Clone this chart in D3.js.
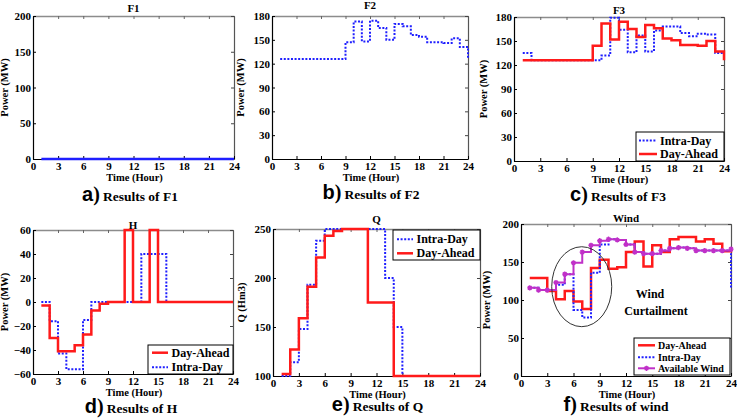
<!DOCTYPE html>
<html><head><meta charset="utf-8">
<script src="https://cdn.jsdelivr.net/npm/d3@7"></script>
<style>
html,body{margin:0;padding:0;background:#fff;}
svg{display:block;font-family:"Liberation Serif","Times New Roman",serif;font-weight:bold;}
</style></head><body>
<svg id="chart" width="737" height="418"></svg>
<script>
// ---------- data ----------
const hours = [1,2,3,4,5,6,7,8,9,10,11,12,13,14,15,16,17,18,19,20,21,22,23,24];
const xTicks = [0,3,6,9,12,15,18,21,24];

const f1Intra = [0,0,0,0,0,0,0,0,0,0,0,0,0,0,0,0,0,0,0,0,0,0,0,0];
const f1Ticks = [0,50,100,150,200];

const f2Intra = [126,126,126,126,126,126,126,126,147,173,148,174,165,150,170,167,156,154,147,147,146,152,141,126];
const f2Ticks = [0,30,60,90,120,150,180];

const f3Intra = [135,126,126,126,126,126,126,126,126,132,179,164,136,157,137,163,168,168,160,156,159,158,135,126];
const f3DayAhead = [126,126,126,126,126,126,126,126,144,172,152,174,165,155,170,166,153,151,145,145,144,150,137,126];
const f3Ticks = [0,30,60,90,120,150,180];

const hDayAhead = [-3,-30,-41,-41,-36,-27,-7,-1.5,0,0,60,0,0,60,0,0,0,0,0,0,0,0,0,0];
const hIntra = [0,-16,-43,-56,-56,-15,0,0,0,0,0,0,40,40,40,0,0,0,0,0,0,0,0,0];
const hTicks = [-60,-40,-20,0,20,40,60];

const qDayAhead = [102,127,159,191,221,243,248,250,250,250,175,175,175,100,100,100,100,100,100,100,100,100,100,100];
const qIntra = [100,114,148,193,238,250,250,250,250,250,250,250,200,150,100,100,100,100,100,100,100,100,100,100];
const qTicks = [100,150,200,250];

const wDayAhead = [129,129,112,101,112,98,88,142,153,141,143,163,177,144,172,163,180,183,183,177,180,174,164,166];
const wIntra = [116,113,113,120,134,87,77,136,173,180,179,173,163,161,161,165,168,169,168,165,165,165,165,116];
const wAvailable = [116,113,113,123,134,149,163,172,178,180,179,173,163,161,161,165,168,169,168,165,165,165,165,167];
const wTicks = [0,50,100,150,200];

// ---------- styles ----------
const RED = '#ff1a1a', BLUE = '#1f1fff', MAG = '#c030c8';
const stRed = {color: RED, width: 2.5, dash: null};
const stBlue = {color: BLUE, width: 2, dash: '2,1.6'};
const stMag = {color: MAG, width: 2, dash: null, marker: true};

const svg = d3.select('#chart');

function markerPath(cx, cy, s) {
  return `M${cx-s},${cy}L${cx+s},${cy}M${cx},${cy-s}L${cx},${cy+s}M${cx-s*0.7},${cy-s*0.7}L${cx+s*0.7},${cy+s*0.7}M${cx-s*0.7},${cy+s*0.7}L${cx+s*0.7},${cy-s*0.7}`;
}

function drawPanel(p) {
  const g = svg.append('g');
  const x = d3.scaleLinear().domain([0,24]).range([p.x0,p.x1]);
  const y = d3.scaleLinear().domain([p.yTicks[0], p.yTicks[p.yTicks.length-1]]).range([p.y1,p.y0]);

  // top & right (grey box sides, inward ticks)
  const top = g.append('g').attr('transform',`translate(0,${p.y0})`)
    .call(d3.axisTop(x).tickValues(xTicks).tickSizeInner(-3).tickSizeOuter(0).tickFormat(''));
  top.select('.domain').attr('stroke','#8c8c8c').attr('stroke-width',1.5);
  top.selectAll('.tick line').attr('stroke','#666');
  const right = g.append('g').attr('transform',`translate(${p.x1},0)`)
    .call(d3.axisRight(y).tickValues(p.yTicks).tickSizeInner(-3).tickSizeOuter(0).tickFormat(''));
  right.select('.domain').attr('stroke','#555').attr('stroke-width',1.2);
  right.selectAll('.tick line').attr('stroke','#444');

  // bottom & left axes
  const bottom = g.append('g').attr('transform',`translate(0,${p.y1})`)
    .call(d3.axisBottom(x).tickValues(xTicks).tickSizeInner(-3).tickSizeOuter(0).tickPadding(3));
  const left = g.append('g').attr('transform',`translate(${p.x0},0)`)
    .call(d3.axisLeft(y).tickValues(p.yTicks).tickSizeInner(-3).tickSizeOuter(0).tickPadding(2));
  [bottom,left].forEach(a => {
    a.select('.domain').attr('stroke','#000').attr('stroke-width',1.2);
    a.selectAll('.tick line').attr('stroke','#000');
    a.selectAll('.tick text').attr('fill','#000')
      .style('font-family','"Liberation Serif",serif').style('font-weight','bold').style('font-size','11px');
  });

  // series
  const line = d3.line().x((d,i)=>x(hours[i])).y(d=>y(d)).curve(d3.curveStepAfter);
  p.series.forEach(s => {
    g.append('path').datum(s.values).attr('d', line)
      .attr('fill','none').attr('stroke', s.st.color).attr('stroke-width', s.st.width)
      .attr('stroke-dasharray', s.st.dash).attr('stroke-linejoin','miter');
    if (s.st.marker) {
      g.append('g').selectAll('path').data(s.values).join('path')
        .attr('d',(d,i)=>markerPath(x(hours[i]), y(d), 2.6))
        .attr('stroke', s.st.color).attr('stroke-width',1.4).attr('fill','none');
    }
  });

  // title
  g.append('text').attr('x', (p.x0+p.x1)/2).attr('y', p.titleY).attr('text-anchor','middle')
    .attr('font-size', 11).text(p.title);
  // x label
  g.append('text').attr('x', (p.x0+p.x1)/2 + 1).attr('y', p.y1 + 22).attr('text-anchor','middle')
    .attr('font-size', 10.5).text('Time (Hour)');
  // y label
  const ly = (p.y0+p.y1)/2;
  g.append('text').attr('transform',`translate(${p.x0 - p.ylabOff},${ly}) rotate(-90)`)
    .attr('text-anchor','middle').attr('font-size', 10.5).text(p.ylabel);

  // legend
  if (p.legend) {
    const L = p.legend;
    g.append('rect').attr('x',L.x).attr('y',L.y).attr('width',L.w).attr('height',L.h)
      .attr('fill','#fff').attr('stroke','#000').attr('stroke-width',1);
    L.items.forEach((it,i) => {
      const cy = L.rows[i];
      g.append('line').attr('x1',L.sx0).attr('x2',L.sx1).attr('y1',cy).attr('y2',cy)
        .attr('stroke',it.st.color).attr('stroke-width',it.st.width).attr('stroke-dasharray',it.st.dash);
      if (it.st.marker) {
        g.append('path').attr('d', markerPath((L.sx0+L.sx1)/2, cy, 2.6))
          .attr('stroke',it.st.color).attr('stroke-width',1.4).attr('fill','none');
      }
      g.append('text').attr('x',L.tx).attr('y',cy).attr('dy','0.34em')
        .attr('font-size',L.fs).text(it.label);
    });
  }

  // caption
  const cap = g.append('text').attr('x',p.cap.x).attr('y',p.cap.y).attr('text-anchor','middle');
  cap.append('tspan').attr('font-size',20).attr('font-family','"Liberation Sans",Arial,sans-serif').text(p.cap.letter);
  cap.append('tspan').attr('font-size',20).text(')');
  cap.append('tspan').attr('font-size',13.5).attr('dx',3).text(p.cap.text);
  return {g, x, y};
}

drawPanel({x0:33, x1:234, y0:16, y1:159, yTicks:f1Ticks, title:'F1', titleY:12,
  ylabel:'Power (MW)', ylabOff:25,
  series:[{values:f1Intra, st:{color:BLUE, width:2.5, dash:null}}],
  cap:{letter:'a', text:'Results of F1', x:130, y:201}});

drawPanel({x0:272, x1:468, y0:16, y1:159, yTicks:f2Ticks, title:'F2', titleY:9,
  ylabel:'Power (MW)', ylabOff:28,
  series:[{values:f2Intra, st:stBlue}],
  cap:{letter:'b', text:'Results of F2', x:371, y:199}});

drawPanel({x0:514, x1:724, y0:17, y1:161, yTicks:f3Ticks, title:'F3', titleY:14,
  ylabel:'Power (MW)', ylabOff:27,
  series:[{values:f3Intra, st:stBlue},{values:f3DayAhead, st:stRed}],
  legend:{x:636, y:132, w:88, h:29, sx0:639, sx1:657, tx:660, rows:[140.5,154], fs:12,
    items:[{label:'Intra-Day', st:stBlue},{label:'Day-Ahead', st:stRed}]},
  cap:{letter:'c', text:'Results of F3', x:618, y:201}});

drawPanel({x0:33, x1:233, y0:230, y1:374, yTicks:hTicks, title:'H', titleY:229,
  ylabel:'Power (MW)', ylabOff:25,
  series:[{values:hIntra, st:stBlue},{values:hDayAhead, st:stRed}],
  legend:{x:148, y:345, w:85, h:29, sx0:152, sx1:168, tx:171.5, rows:[352.7,367.3], fs:12,
    items:[{label:'Day-Ahead', st:stRed},{label:'Intra-Day', st:stBlue}]},
  cap:{letter:'d', text:'Results of H', x:131, y:413}});

drawPanel({x0:273, x1:480, y0:229, y1:376, yTicks:qTicks, title:'Q', titleY:223,
  ylabel:'Q (Hm3)', ylabOff:28,
  series:[{values:qIntra, st:stBlue},{values:qDayAhead, st:stRed}],
  legend:{x:393, y:230, w:87, h:30, sx0:397, sx1:413, tx:416.5, rows:[239.3,253.3], fs:12,
    items:[{label:'Intra-Day', st:stBlue},{label:'Day-Ahead', st:stRed}]},
  cap:{letter:'e', text:'Results of Q', x:377.5, y:411}});

const wp = drawPanel({x0:521, x1:731, y0:224, y1:376, yTicks:wTicks, title:'Wind', titleY:222,
  ylabel:'Power (MW)', ylabOff:31,
  series:[{values:wDayAhead, st:stRed},{values:wIntra, st:stBlue},{values:wAvailable, st:stMag}],
  legend:{x:634, y:338, w:96, h:37, sx0:638, sx1:655, tx:658, rows:[345.3,357.3,368.3], fs:10,
    items:[{label:'Day-Ahead', st:stRed},{label:'Intra-Day', st:stBlue},{label:'Available Wind', st:stMag}]},
  cap:{letter:'f', text:'Results of wind', x:616, y:411}});

// wind curtailment annotation
const cx = wp.x(6.94), cy = wp.y(117.5);
wp.g.append('ellipse').attr('cx',cx).attr('cy',cy)
  .attr('rx', wp.x(3.43) - wp.x(0)).attr('ry', wp.y(0) - wp.y(52.6))
  .attr('fill','none').attr('stroke','#333').attr('stroke-width',1);
wp.g.append('text').attr('x',650).attr('y',298).attr('text-anchor','middle').attr('font-size',12).text('Wind');
wp.g.append('text').attr('x',656).attr('y',315).attr('text-anchor','middle').attr('font-size',12).text('Curtailment');
</script>
</body></html>
